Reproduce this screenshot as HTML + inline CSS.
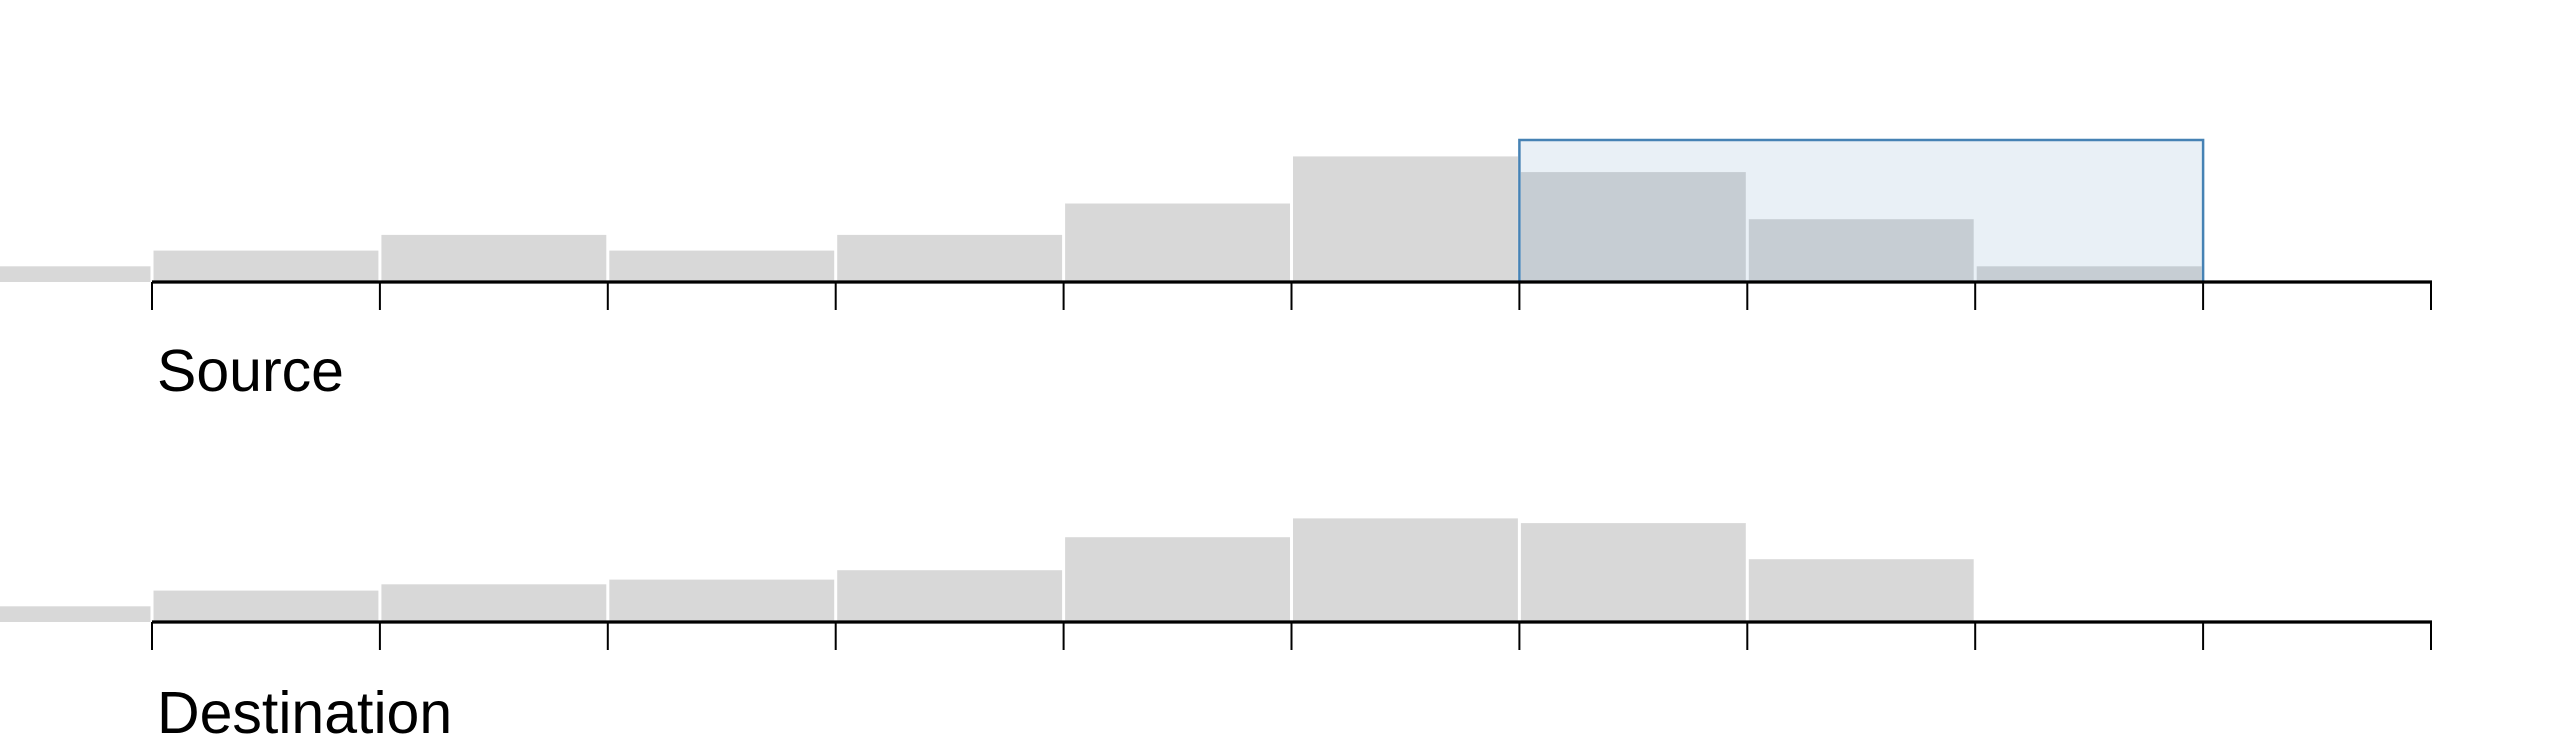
<!DOCTYPE html>
<html><head><meta charset="utf-8"><style>
html,body{margin:0;padding:0;background:#fff;}
svg{display:block;}
text{font-family:"Liberation Sans",sans-serif;}
</style></head><body>
<svg id="chart" width="2560" height="742"></svg>
<script>
const binStarts = [-1,0,1,2,3,4,5,6,7,8,9];
const sourceCounts = [1,2,3,2,3,5,8,7,4,1,0];
const destCounts = [1,2,2.4,2.7,3.3,5.4,6.6,6.3,4,0,0];
const tickValues = [0,1,2,3,4,5,6,7,8,9,10];
const brushRange = [6,9];

const NS='http://www.w3.org/2000/svg';
const svg=document.getElementById('chart');
const x=v=>152+v*227.9;
const unit=15.7;
function el(tag,attrs,parent){const e=document.createElementNS(NS,tag);for(const k in attrs)e.setAttribute(k,attrs[k]);(parent||svg).appendChild(e);return e;}

function panel(name,counts,axisY,label,labelY,withBrush){
  const g=el('g',{});
  
  
  binStarts.forEach((b,i)=>{
    const h=counts[i]*unit; if(h<=0)return;
    const r=el('rect',{x:x(b)+1.5,y:axisY-h,width:227.9-3,height:h,fill:'#d8d8d8'},g);
    
    
  });
  if(withBrush){
    const br=el('rect',{x:x(brushRange[0]),y:140,width:x(brushRange[1])-x(brushRange[0]),height:axisY-140,fill:'rgba(70,130,180,0.12)',stroke:'#4682b4','stroke-width':2.5},g);
    
    
  }
  const ax=el('line',{x1:x(0),x2:x(10)+1,y1:axisY,y2:axisY,stroke:'#000','stroke-width':3.2},g);
  
  
  tickValues.forEach(t=>{
    const tk=el('line',{x1:x(t),x2:x(t),y1:axisY,y2:axisY+28,stroke:'#000','stroke-width':2},g);
    
    
  });
  const tx=el('text',{x:157,y:labelY,'font-size':59,fill:'#000'},g);
  tx.textContent=label;
  
  
}
panel('source',sourceCounts,282,'Source',391,true);
panel('destination',destCounts,622,'Destination',733,false);
</script>
</body></html>
